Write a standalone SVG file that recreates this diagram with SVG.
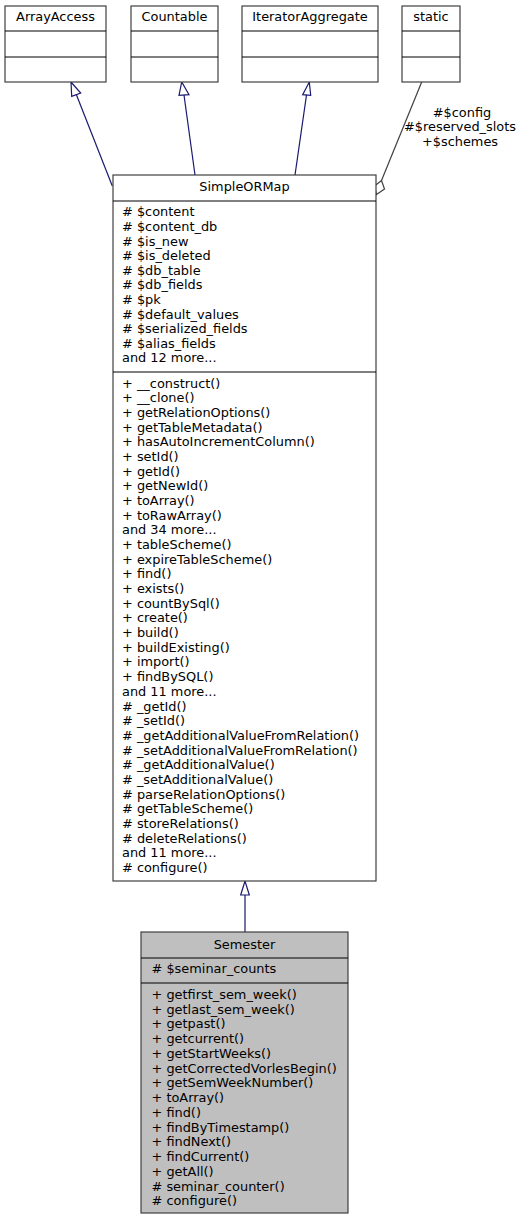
<svg xmlns="http://www.w3.org/2000/svg" width="529" height="1220" viewBox="0 0 529 1220">
<style>
text{font-family:"DejaVu Sans","Liberation Sans",sans-serif;font-size:12.9px;fill:#000}
.c{text-anchor:middle}
.box{fill:#fff;stroke:#404040;stroke-width:1.2}
.sel{fill:#bfbfbf;stroke:#404040;stroke-width:1.2}
.div{stroke:#000;stroke-width:1.2}
.inh{stroke:#191970;stroke-width:1.2;fill:none}
.ah{fill:#fff;stroke:#191970;stroke-width:1.2}
.use{stroke:#404040;stroke-width:1.2;fill:none}
</style>
<rect width="529" height="1220" fill="#fff"/>
<g id="connectors">
  <path class="inh" d="M112.3,186 L76.5,95"/>
  <polygon class="ah" points="71,82 71.7,96.3 80.7,93"/>
  <path class="inh" d="M195,175 L184,95"/>
  <polygon class="ah" points="181.7,82 179,95.3 189,94.7"/>
  <path class="inh" d="M295,175 L306.5,95"/>
  <polygon class="ah" points="309.3,82 302.7,94.7 310.7,95.3"/>
  <path class="inh" d="M245,932 L245,895"/>
  <polygon class="ah" points="245,881 240.7,895 249.3,895"/>
  <path class="use" d="M421.7,82 L381.5,180.5"/>
  <polygon class="use" points="381.5,180.5 384.5,189 376.5,194.5 374.5,186" fill="#fff"/>
  <text class="c" x="462" y="117">#$config</text>
  <text class="c" x="460" y="131">#$reserved_slots</text>
  <text class="c" x="460" y="146">+$schemes</text>
</g>
<g id="ArrayAccess">
  <rect class="box" x="5" y="6" width="101" height="76"/>
  <text class="c" x="55.5" y="21">ArrayAccess</text>
  <line class="div" x1="5" y1="31" x2="106" y2="31"/>
  <line class="div" x1="5" y1="57" x2="106" y2="57"/>
</g>
<g id="Countable">
  <rect class="box" x="131" y="6" width="87" height="76"/>
  <text class="c" x="174.5" y="21">Countable</text>
  <line class="div" x1="131" y1="31" x2="218" y2="31"/>
  <line class="div" x1="131" y1="57" x2="218" y2="57"/>
</g>
<g id="IteratorAggregate">
  <rect class="box" x="242" y="6" width="136" height="76"/>
  <text class="c" x="310" y="21">IteratorAggregate</text>
  <line class="div" x1="242" y1="31" x2="378" y2="31"/>
  <line class="div" x1="242" y1="57" x2="378" y2="57"/>
</g>
<g id="static">
  <rect class="box" x="402" y="6" width="58" height="76"/>
  <text class="c" x="431" y="21">static</text>
  <line class="div" x1="402" y1="31" x2="460" y2="31"/>
  <line class="div" x1="402" y1="57" x2="460" y2="57"/>
</g>
<g id="SimpleORMap">
  <rect class="box" x="113" y="175" width="263" height="706"/>
  <text class="c" x="244.5" y="190.5">SimpleORMap</text>
  <line class="div" x1="113" y1="201" x2="376" y2="201"/>
  <text x="122" y="216.3"># $content</text>
  <text x="122" y="230.9"># $content_db</text>
  <text x="122" y="245.5"># $is_new</text>
  <text x="122" y="260.1"># $is_deleted</text>
  <text x="122" y="274.7"># $db_table</text>
  <text x="122" y="289.3"># $db_fields</text>
  <text x="122" y="303.9"># $pk</text>
  <text x="122" y="318.5"># $default_values</text>
  <text x="122" y="333.1"># $serialized_fields</text>
  <text x="122" y="347.7"># $alias_fields</text>
  <text x="122" y="362.3">and 12 more...</text>
  <line class="div" x1="113" y1="372" x2="376" y2="372"/>
  <text x="122" y="387.5">+ __construct()</text>
  <text x="122" y="402.2">+ __clone()</text>
  <text x="122" y="416.9">+ getRelationOptions()</text>
  <text x="122" y="431.5">+ getTableMetadata()</text>
  <text x="122" y="446.2">+ hasAutoIncrementColumn()</text>
  <text x="122" y="460.9">+ setId()</text>
  <text x="122" y="475.6">+ getId()</text>
  <text x="122" y="490.3">+ getNewId()</text>
  <text x="122" y="504.9">+ toArray()</text>
  <text x="122" y="519.6">+ toRawArray()</text>
  <text x="122" y="534.3">and 34 more...</text>
  <text x="122" y="549">+ tableScheme()</text>
  <text x="122" y="563.7">+ expireTableScheme()</text>
  <text x="122" y="578.3">+ find()</text>
  <text x="122" y="593">+ exists()</text>
  <text x="122" y="607.7">+ countBySql()</text>
  <text x="122" y="622.4">+ create()</text>
  <text x="122" y="637.1">+ build()</text>
  <text x="122" y="651.7">+ buildExisting()</text>
  <text x="122" y="666.4">+ import()</text>
  <text x="122" y="681.1">+ findBySQL()</text>
  <text x="122" y="695.8">and 11 more...</text>
  <text x="122" y="710.5"># _getId()</text>
  <text x="122" y="725.1"># _setId()</text>
  <text x="122" y="739.8"># _getAdditionalValueFromRelation()</text>
  <text x="122" y="754.5"># _setAdditionalValueFromRelation()</text>
  <text x="122" y="769.2"># _getAdditionalValue()</text>
  <text x="122" y="783.9"># _setAdditionalValue()</text>
  <text x="122" y="798.5"># parseRelationOptions()</text>
  <text x="122" y="813.2"># getTableScheme()</text>
  <text x="122" y="827.9"># storeRelations()</text>
  <text x="122" y="842.6"># deleteRelations()</text>
  <text x="122" y="857.3">and 11 more...</text>
  <text x="122" y="872"># configure()</text>
</g>
<g id="Semester">
  <rect class="sel" x="141" y="932" width="207" height="281"/>
  <text class="c" x="244.5" y="948.5">Semester</text>
  <line class="div" x1="141" y1="958" x2="348" y2="958"/>
  <text x="151.5" y="973"># $seminar_counts</text>
  <line class="div" x1="141" y1="983" x2="348" y2="983"/>
  <text x="151.5" y="998.7">+ getfirst_sem_week()</text>
  <text x="151.5" y="1013.5">+ getlast_sem_week()</text>
  <text x="151.5" y="1028.2">+ getpast()</text>
  <text x="151.5" y="1043">+ getcurrent()</text>
  <text x="151.5" y="1057.7">+ getStartWeeks()</text>
  <text x="151.5" y="1072.5">+ getCorrectedVorlesBegin()</text>
  <text x="151.5" y="1087.2">+ getSemWeekNumber()</text>
  <text x="151.5" y="1102">+ toArray()</text>
  <text x="151.5" y="1116.7">+ find()</text>
  <text x="151.5" y="1131.5">+ findByTimestamp()</text>
  <text x="151.5" y="1146.2">+ findNext()</text>
  <text x="151.5" y="1161">+ findCurrent()</text>
  <text x="151.5" y="1175.7">+ getAll()</text>
  <text x="151.5" y="1190.5"># seminar_counter()</text>
  <text x="151.5" y="1205.2"># configure()</text>
</g>
</svg>
